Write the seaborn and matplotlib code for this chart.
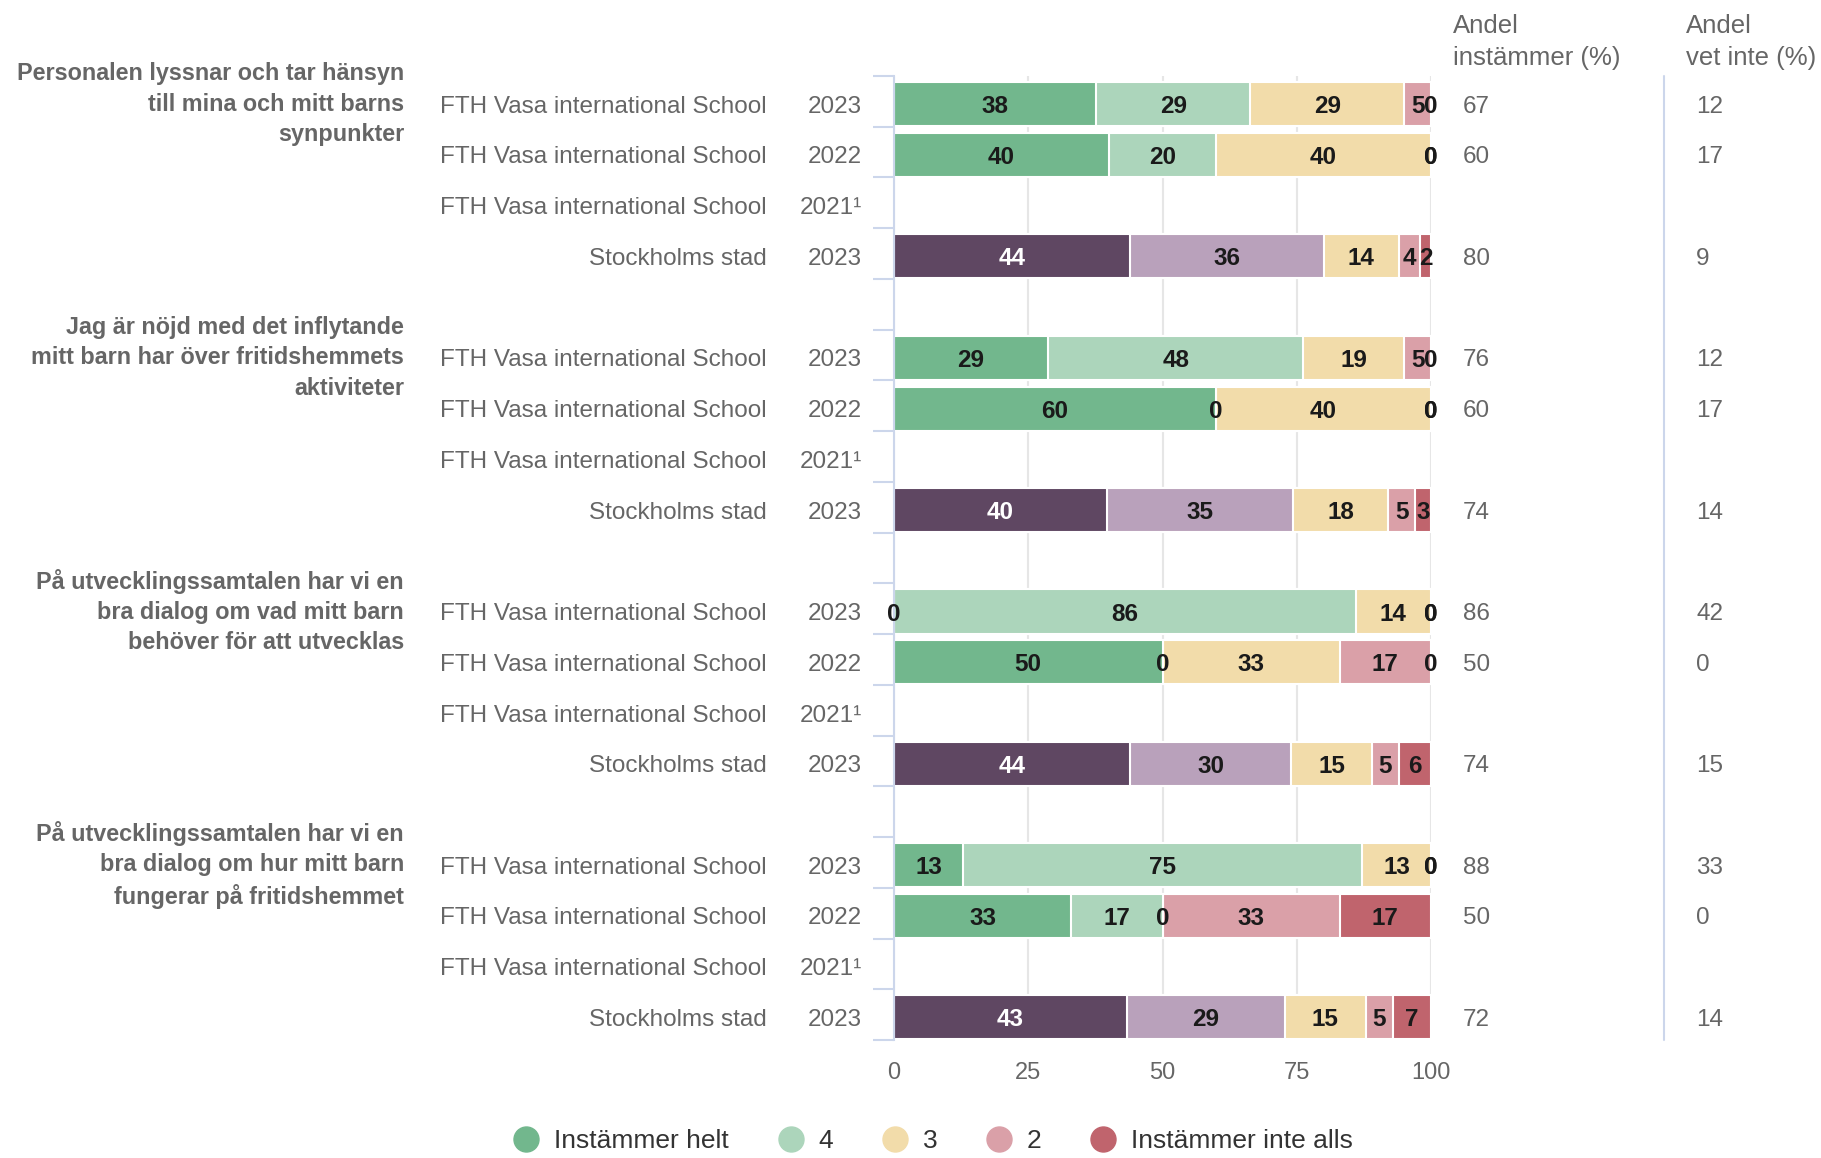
import matplotlib
matplotlib.use('Agg')
import matplotlib.pyplot as plt
from matplotlib.lines import Line2D
import seaborn as sns
import pandas as pd
import numpy as np

# Data
questions = ["Personalen lyssnar och tar hänsyn\ntill mina och mitt barns\nsynpunkter",
             "Jag är nöjd med det inflytande\nmitt barn har över fritidshemmets\naktiviteter",
             "På utvecklingssamtalen har vi en\nbra dialog om vad mitt barn\nbehöver för att utvecklas",
             "På utvecklingssamtalen har vi en\nbra dialog om hur mitt barn\nfungerar på fritidshemmet"]
units = ["FTH Vasa international School", "FTH Vasa international School",
         "FTH Vasa international School", "Stockholms stad"]
years = ["2023", "2022", "2021¹", "2023"]
categories = ["Instämmer helt", "4", "3", "2", "Instämmer inte alls"]

q1_values = [[38, 29, 29, 5, 0], [40, 20, 40, 0, 0], None, [44, 36, 14, 4, 2]]
q2_values = [[29, 48, 19, 5, 0], [60, 0, 40, 0, 0], None, [40, 35, 18, 5, 3]]
q3_values = [[0, 86, 14, 0, 0], [50, 0, 33, 17, 0], None, [44, 30, 15, 5, 6]]
q4_values = [[13, 75, 13, 0, 0], [33, 17, 0, 33, 17], None, [43, 29, 15, 5, 7]]
all_values = [q1_values, q2_values, q3_values, q4_values]

andel_instammer = [[67, 60, None, 80], [76, 60, None, 74], [86, 50, None, 74], [88, 50, None, 72]]
andel_vet_inte = [[12, 17, None, 9], [12, 17, None, 14], [42, 0, None, 15], [33, 0, None, 14]]

fth_colors = ['#72b78d', '#acd5bb', '#f2dcaa', '#daa0a8', '#c0646d']
sthlm_colors = ['#5f4762', '#b9a1bb', '#f2dcaa', '#daa0a8', '#c0646d']
grey = '#666666'
shift = 0.055   # rows sit a little below the slot centre

sns.set_theme(style='white')
plt.rcParams['font.family'] = ['Liberation Sans', 'DejaVu Sans']

fig = plt.figure(figsize=(18.21, 11.58), dpi=100)
ax = fig.add_axes([894 / 1821, 1 - 1040 / 1158, 537 / 1821, 964 / 1158])

# Build a table of rows with positions and cumulative shares
records = []
for qi, qvals in enumerate(all_values):
    for ri, vals in enumerate(qvals):
        if vals is None:
            continue
        pos = qi * 5 + ri + shift
        total = float(sum(vals))
        rec = {'pos': pos, 'row_id': 'r%d' % (qi * 5 + ri), 'sthlm': ri == 3}
        cum = 0.0
        for k, v in enumerate(vals):
            rec['start%d' % k] = cum
            cum += v / total * 100
            rec['cum%d' % k] = cum
        records.append(rec)
df = pd.DataFrame(records)

# Stacked bars: draw cumulative layers from the last category backwards
for k in reversed(range(5)):
    pal = {r.row_id: (sthlm_colors[k] if r.sthlm else fth_colors[k]) for r in df.itertuples()}
    sns.barplot(data=df, x='cum%d' % k, y='pos', hue='row_id', palette=pal, orient='h',
                native_scale=True, dodge=False, width=0.87, edgecolor='white', linewidth=1.5,
                saturation=1, legend=False, errorbar=None, ax=ax)

# Segment labels
for r in df.itertuples():
    qi, ri = divmod(int(r.row_id[1:]), 5)
    vals = all_values[qi][ri]
    for k, v in enumerate(vals):
        xc = (getattr(r, 'start%d' % k) + getattr(r, 'cum%d' % k)) / 2
        col = 'white' if (ri == 3 and k == 0) else '#1a1a1a'
        ax.text(xc, r.pos, str(v), ha='center', va='center_baseline', fontsize=17.5,
                fontweight='bold', color=col, zorder=5)

# Row labels, question texts, side columns
ytr = ax.get_yaxis_transform()
for qi, q in enumerate(questions):
    ax.text(-0.9125, qi * 5 + shift, q, transform=ytr, ha='right', va='center', fontsize=16.8,
            fontweight='bold', color=grey, linespacing=1.4)
    for ri in range(4):
        pos = qi * 5 + ri + shift
        ax.text(-0.2365, pos, units[ri], transform=ytr, ha='right', va='center_baseline', fontsize=17.5, color=grey)
        ax.text(-0.0596, pos, years[ri], transform=ytr, ha='right', va='center_baseline', fontsize=17.5, color=grey)
        if andel_instammer[qi][ri] is not None:
            ax.text(1.0596, pos, str(andel_instammer[qi][ri]), transform=ytr, ha='left', va='center_baseline',
                    fontsize=17.5, color=grey)
        if andel_vet_inte[qi][ri] is not None:
            ax.text(1.4935, pos, str(andel_vet_inte[qi][ri]), transform=ytr, ha='left', va='center_baseline',
                    fontsize=17.5, color=grey)

for xh, lines in [(1453, ["Andel", "instämmer (%)"]), (1686, ["Andel", "vet inte (%)"])]:
    fig.text(xh / 1821, 1 - 33 / 1158, lines[0], ha='left', va='baseline', fontsize=18.5, color=grey)
    fig.text(xh / 1821, 1 - 65 / 1158, lines[1], ha='left', va='baseline', fontsize=18.5, color=grey)
ax.plot([1.434, 1.434], [0, 1], transform=ax.transAxes, clip_on=False, color='#ccd6eb', lw=1.5)

# Axes styling
ax.set_xlim(0, 100)
ax.set_ylim(18.5, -0.5)
ax.set_xticks([0, 25, 50, 75, 100])
ax.set_yticks(np.arange(-0.5, 19, 1))
ax.set_yticklabels([])
ax.set_xlabel('')
ax.set_ylabel('')
ax.grid(axis='x', color='#e6e6e6', lw=1.5)
ax.grid(axis='y', visible=False)
ax.set_axisbelow(True)
for s in ['top', 'right', 'bottom']:
    ax.spines[s].set_visible(False)
ax.spines['left'].set_color('#ccd6eb')
ax.spines['left'].set_linewidth(1.5)
ax.tick_params(axis='y', length=15, width=1.5, color='#ccd6eb', left=True)
ax.tick_params(axis='x', length=0, pad=16, labelsize=17, labelcolor=grey)

# Legend
handles = [Line2D([], [], marker='o', ls='', markersize=18, markerfacecolor=c, markeredgecolor=c)
           for c in fth_colors]
fig.legend(handles, categories, loc='center', bbox_to_anchor=(933 / 1821, 1 - 1141 / 1158), ncol=5,
           frameon=False, fontsize=19, handlelength=1.0, handletextpad=0.56, columnspacing=1.83,
           labelcolor='#333333')

fig.savefig('out.png', dpi=100)
